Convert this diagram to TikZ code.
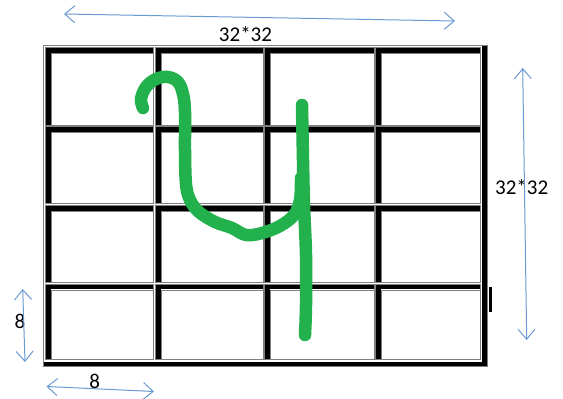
\documentclass[tikz,border=0pt]{standalone}
\usepackage{fontspec}
\setmainfont{Carlito}
\usetikzlibrary{arrows.meta}
\definecolor{gridgray}{HTML}{7F7F7F}
\definecolor{dimblue}{HTML}{6A9AD3}
\definecolor{inkgreen}{HTML}{22B14C}

\begin{document}
\begin{tikzpicture}[
  x=1pt, y=-1pt,
  cellline/.style={draw=gridgray, line width=0.8pt},
  cellband/.style={fill=black},
  dimarrow/.style={{Straight Barb[length=10pt,width=17pt]}-{Straight Barb[length=10pt,width=17pt]}, draw=dimblue, line width=1pt},
  dimlabel/.style={font=\fontsize{21}{25}\selectfont, inner sep=0pt},
  handstroke/.style={draw=inkgreen, line width=12.5pt, line cap=round, line join=round}
]
  \useasboundingbox (0,0) rectangle (563,399);

  % table frame
  \draw[cellline] (43.3,45) rectangle (487.3,366);
  \fill[cellband] (481.7,45.5) rectangle (487,366);
  \fill[cellband] (43.5,361.5) rectangle (487,366);

  % cells, 3d border
  \foreach \cl/\cr in {45.5/153.5,155.3/263,264.7/374,375.5/480}
    \foreach \rt/\rb in {47.8/125,126.5/203.8,205.3/282.5,284/359.5}
    {
      \fill[cellband] (\cl,\rt) rectangle (\cr,\rt+5.3);
      \fill[cellband] (\cl,\rt) rectangle (\cl+5.3,\rb);
      \draw[cellline] (\cl,\rt) rectangle (\cr,\rb);
      \draw[cellline] (\cr,\rt+6) -- (\cl+6,\rt+6) -- (\cl+6,\rb);
    }

  \draw[line width=2.5pt] (490.5,287) -- (490.5,312);

  % handwritten digit
  \draw[handstroke] plot[smooth, tension=0.6] coordinates {
    (143,108) (141,99) (146,87) (156,79) (168,77) (178,82) (183,94)
    (185,112) (185,150) (186,184) (190,200) (199,212) (215,222)
    (232,228) (246,235) (262,233) (280,226) (294,215) (300,200) (301,178)};
  \draw[handstroke] plot[smooth, tension=0.6] coordinates {
    (302,105) (303,160) (304,205) (306,255) (306,305) (305,335)};

  % dimensions
  \coordinate (topL) at (64,14);
  \coordinate (topR) at (455,21);
  \coordinate (sideT) at (522.7,68);
  \coordinate (sideB) at (526.7,340);
  \coordinate (cellT) at (22.7,289);
  \coordinate (cellB) at (25,362);
  \coordinate (cellL) at (46.5,386.5);
  \coordinate (cellR) at (154,391.5);

  \node[dimlabel] (toplabel) at (245.5,34) {32*32};
  \node[dimlabel] (sidelabel) at (521.7,187.5) {32*32};
  \node[dimlabel] (celllabelv) at (20,321) {8};
  \node[dimlabel] (celllabelh) at (94.7,381.5) {8};

  \draw[dimarrow] (topL) -- (topR);
  \draw[dimarrow] (sideT) -- (sideB);
  \draw[dimarrow] (cellT) -- (cellB);
  \draw[dimarrow] (cellL) -- (cellR);
\end{tikzpicture}
\end{document}
